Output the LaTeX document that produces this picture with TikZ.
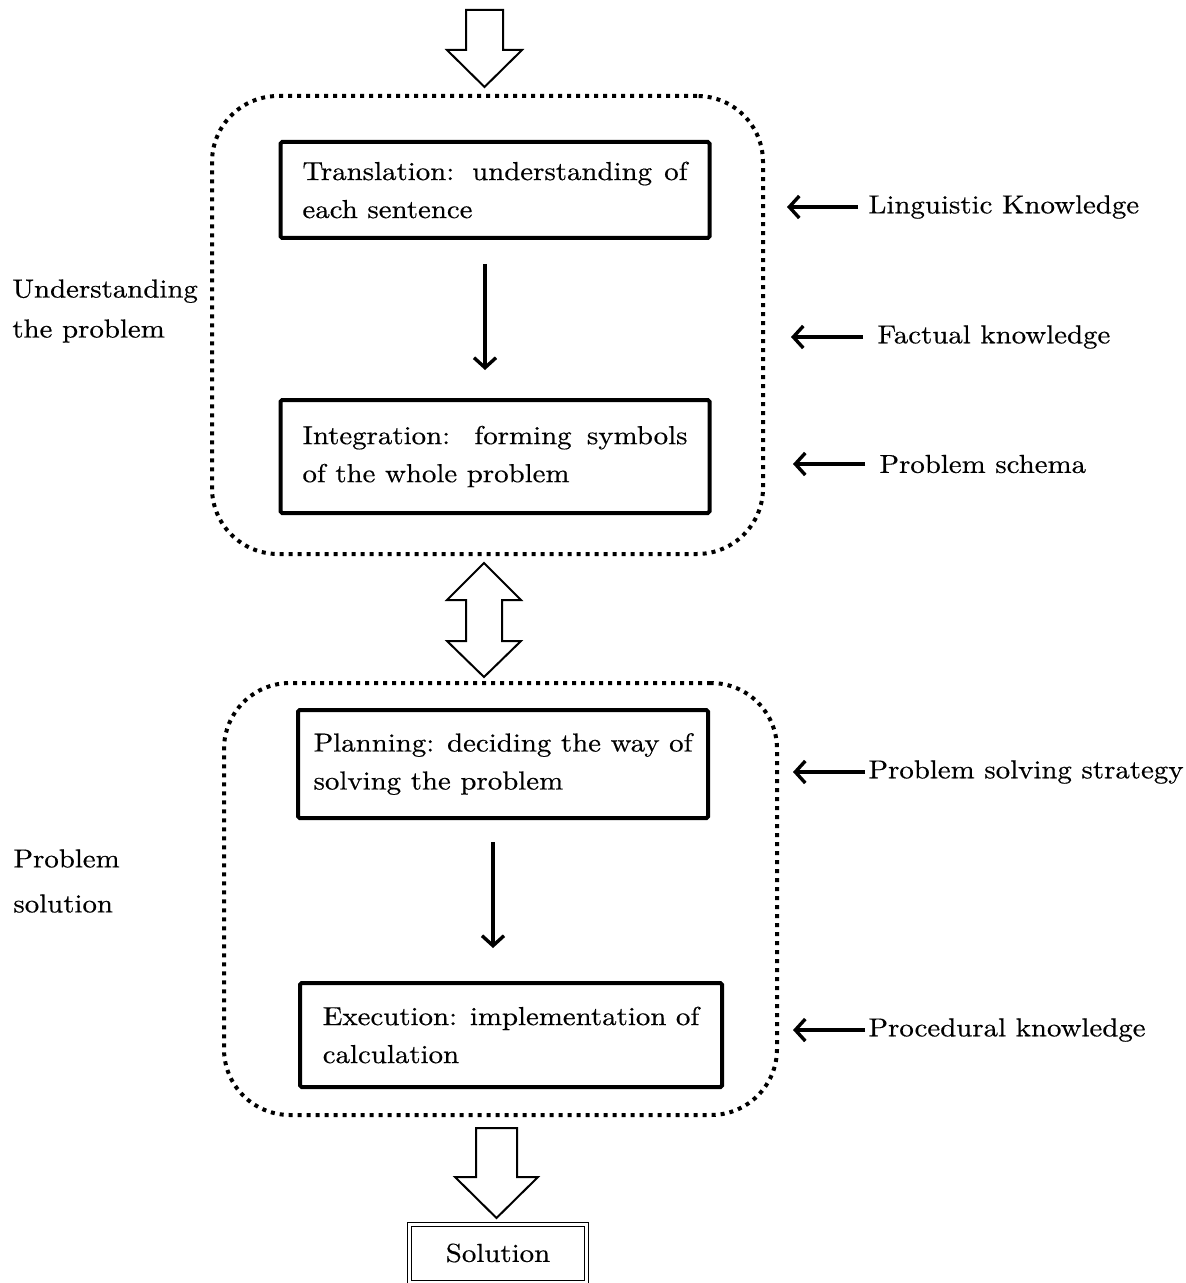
\documentclass[tikz,border=0pt]{standalone}
\usepackage{fontspec}
\setmainfont{lmroman10-regular.otf}[FakeStretch=1.11, FakeBold=0.5]
\usetikzlibrary{arrows.meta}
\begin{document}
\begin{tikzpicture}[x=0.5pt,y=-0.5pt,
  every node/.style={font=\fontsize{13}{19}\selectfont},
  dotbox/.style={draw, line width=2pt, dash pattern=on 2pt off 2.5pt, rounded corners=33pt, inner sep=0pt},
  procbox/.style={draw, line width=2pt, rounded corners=0.8pt, inner xsep=11pt, inner ysep=0pt, text width=192.5pt, align=justify},
  procboxb/.style={draw, line width=2pt, rounded corners=0.8pt, inner sep=0pt, align=left},
  lbl/.style={inner sep=0pt, anchor=west},
  arr/.style={-{Straight Barb[length=5pt,width=11pt]}, line width=1.7pt},
  blockarrow/.style={draw, line width=1pt, line join=miter, fill=white},
]
\useasboundingbox (0,0) rectangle (1185,1283);

% dotted groups
\node[dotbox, minimum width=275.5pt, minimum height=229pt] (g1) at (487.5,325) {};
\node[dotbox, minimum width=276.5pt, minimum height=216pt] (g2) at (500.5,899) {};

% process boxes
\node[procbox, minimum height=48pt] (trans) at (495,190) {Translation: understanding of each sentence};
\node[procbox, minimum height=56.5pt] (integ) at (495,456.5) {Integration: forming symbols of the whole problem};
\node[procboxb, minimum width=205pt, minimum height=54pt] (plan) at (503,764) {Planning: deciding the way of\\solving the problem};
\node[procboxb, minimum width=211pt, minimum height=52pt] (exec) at (511,1035) {Execution: implementation of\\calculation};

% solution
\node[draw, line width=0.5pt, double, double distance=1.5pt, minimum width=88.5pt, minimum height=29pt, inner sep=0pt] (sol) at (498,1253) {Solution};

% block arrows
\draw[blockarrow] (466,10) -- (503,10) -- (503,50) -- (522,50) -- (484.5,87) -- (447,50) -- (466,50) -- cycle;
\draw[blockarrow] (484,563) -- (521,600) -- (502,600) -- (502,641) -- (521,641) -- (484,677) -- (447,641) -- (466,641) -- (466,600) -- (447,600) -- cycle;
\draw[blockarrow] (476,1128) -- (517,1128) -- (517,1177) -- (538,1177) -- (496.5,1218) -- (455,1177) -- (476,1177) -- cycle;

% inner arrows
\draw[arr, shorten <=12pt, shorten >=14pt] ([xshift=-5pt]trans.south) -- ([xshift=-5pt]integ.north);
\draw[arr, shorten <=11pt, shorten >=16.5pt] ([xshift=-5pt]plan.south) -- ([xshift=-5pt]plan.south |- exec.north);

% right labels
\node[lbl] (k1) at (868,207) {Linguistic Knowledge};
\node[lbl] (k2) at (877,337) {Factual knowledge};
\node[lbl] (k3) at (879,464) {Problem schema};
\node[lbl] (k4) at (868,772) {Problem solving strategy};
\node[lbl] (k5) at (868,1030) {Procedural knowledge};
\coordinate (t1) at (787,207);
\coordinate (t2) at (791,337);
\coordinate (t3) at (793,464);
\coordinate (t4) at (793,772);
\coordinate (t5) at (793,1030);
\draw[arr, shorten <=5pt] (k1) -- (t1);
\draw[arr, shorten <=7pt] (k2) -- (t2);
\draw[arr, shorten <=7pt] (k3) -- (t3);
\draw[arr, shorten <=1.5pt] (k4) -- (t4);
\draw[arr, shorten <=1.5pt] (k5) -- (t5);

% left labels
\node[lbl, align=left, font=\fontsize{13}{20}\selectfont] (u) at (12,311) {Understanding\\the problem};
\node[lbl, align=left, font=\fontsize{13}{22.5}\selectfont] (p) at (13,881) {Problem\\solution};
\end{tikzpicture}
\end{document}
